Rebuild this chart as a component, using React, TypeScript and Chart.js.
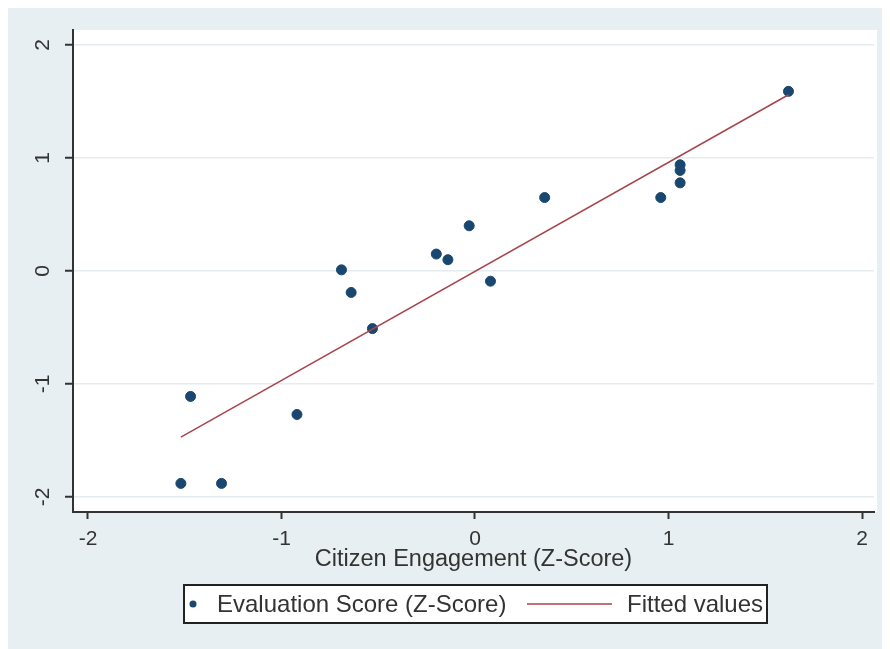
import React, { useEffect, useRef } from "react";
import { Chart, registerables } from "chart.js";

Chart.register(...registerables);

// Data
const engagementX = [1.62, 1.06, 1.06, 1.06, 0.96, 0.36, -0.03, -0.2, -0.14, 0.08, -0.69, -0.64, -0.53, -0.92, -1.47, -1.52, -1.31];
const evaluationY = [1.59, 0.94, 0.89, 0.78, 0.65, 0.65, 0.4, 0.15, 0.1, -0.09, 0.01, -0.19, -0.51, -1.27, -1.11, -1.88, -1.88];
const fittedX = [-1.52, 1.62];
const fittedY = [-1.47, 1.56];
const xTicks = [-2, -1, 0, 1, 2];
const yTicks = [-2, -1, 0, 1, 2];
const xTitle = "Citizen Engagement (Z-Score)";
const seriesLabels = ["Evaluation Score (Z-Score)", "Fitted values"];

const FONT = "'Liberation Sans', Arial, sans-serif";
const BG = "#e8eff2";
const TEXT = "#333333";
const DOT = "#1a476f";
const LINE = "#a8444c";

const stataPlugin = {
  id: "stataDecor",
  beforeDraw(chart: any) {
    const { ctx, width, height, chartArea } = chart;
    ctx.save();
    ctx.fillStyle = BG;
    ctx.fillRect(0, 0, width, height);
    ctx.fillStyle = "#ffffff";
    ctx.fillRect(chartArea.left, chartArea.top, chartArea.right - chartArea.left + 3, chartArea.bottom - chartArea.top);
    ctx.restore();
  },
  afterDraw(chart: any) {
    const { ctx, chartArea } = chart;
    const yScale = chart.scales.y;
    ctx.save();
    // rotated y tick labels
    ctx.fillStyle = TEXT;
    ctx.font = `21px ${FONT}`;
    ctx.textAlign = "center";
    ctx.textBaseline = "middle";
    yTicks.forEach((v) => {
      const py = yScale.getPixelForValue(v);
      ctx.save();
      ctx.translate(35, py);
      ctx.rotate(-Math.PI / 2);
      ctx.fillText(String(v), 0, 0);
      ctx.restore();
    });
    // x axis title
    ctx.font = `23.5px ${FONT}`;
    ctx.textBaseline = "alphabetic";
    ctx.fillText(xTitle, (chartArea.left + chartArea.right) / 2, 558);
    // legend
    const lx = 176, ly = 577, lw = 583, lh = 38;
    ctx.fillStyle = "#ffffff";
    ctx.fillRect(lx, ly, lw, lh);
    const cy = ly + lh / 2;
    const ds0 = chart.data.datasets[0];
    const ds1 = chart.data.datasets[1];
    ctx.fillStyle = ds0.backgroundColor;
    ctx.beginPath();
    ctx.arc(185, cy, 3.5, 0, Math.PI * 2);
    ctx.fill();
    ctx.fillStyle = TEXT;
    ctx.textAlign = "left";
    ctx.font = `24px ${FONT}`;
    ctx.fillText(ds0.label, 209, cy + 8);
    ctx.strokeStyle = ds1.borderColor;
    ctx.lineWidth = 1.5;
    ctx.beginPath();
    ctx.moveTo(519, cy);
    ctx.lineTo(604, cy);
    ctx.stroke();
    ctx.fillText(ds1.label, 619, cy + 8);
    ctx.strokeStyle = "#222222";
    ctx.lineWidth = 2;
    ctx.strokeRect(lx, ly, lw, lh);
    ctx.restore();
  },
};

export default function App() {
  const ref = useRef<HTMLCanvasElement | null>(null);
  useEffect(() => {
    document.documentElement.style.overflow = "hidden";
    const canvas = ref.current;
    if (!canvas) return;
    const chart = new Chart(canvas, {
      type: "scatter",
      data: {
        datasets: [
          {
            label: seriesLabels[0],
            data: engagementX.map((x, i) => ({ x, y: evaluationY[i] })),
            backgroundColor: DOT,
            borderColor: DOT,
            pointRadius: 5,
            pointHoverRadius: 5,
            showLine: false,
            order: 2,
          },
          {
            label: seriesLabels[1],
            data: fittedX.map((x, i) => ({ x, y: fittedY[i] })),
            borderColor: LINE,
            backgroundColor: LINE,
            borderWidth: 1.5,
            pointRadius: 0,
            showLine: true,
            order: 1,
          },
        ],
      },
      options: {
        animation: false,
        responsive: false,
        events: [],
        layout: { padding: { top: 22, right: 16, left: 0, bottom: 0 } },
        plugins: { legend: { display: false }, tooltip: { enabled: false } },
        scales: {
          x: {
            type: "linear",
            min: -2.0775,
            max: 2.062,
            afterBuildTicks: (s: any) => {
              s.ticks = xTicks.map((v) => ({ value: v }));
            },
            afterFit: (s: any) => {
              s.height = 137;
            },
            grid: {
              drawOnChartArea: false,
              drawTicks: true,
              tickLength: 7,
              tickColor: "#333333",
              tickWidth: 2,
            },
            border: { color: "#333333", width: 2 },
            ticks: {
              color: TEXT,
              font: { family: FONT, size: 21 },
              padding: 8,
              maxRotation: 0,
              autoSkip: false,
            },
          },
          y: {
            type: "linear",
            min: -2.133,
            max: 2.133,
            afterBuildTicks: (s: any) => {
              s.ticks = yTicks.map((v) => ({ value: v }));
            },
            afterFit: (s: any) => {
              s.width = 65;
            },
            grid: {
              color: "#e4ecef",
              lineWidth: 1.5,
              drawTicks: true,
              tickLength: 8,
              tickColor: "#333333",
              tickWidth: 2,
            },
            border: { color: "#333333", width: 2 },
            ticks: { display: false },
          },
        },
      },
      plugins: [stataPlugin],
    } as any);
    return () => chart.destroy();
  }, []);
  return (
    <div style={{ width: 882, height: 641 }}>
      <canvas ref={ref} width={882} height={641} style={{ display: "block", width: 882, height: 641 }} />
    </div>
  );
}
